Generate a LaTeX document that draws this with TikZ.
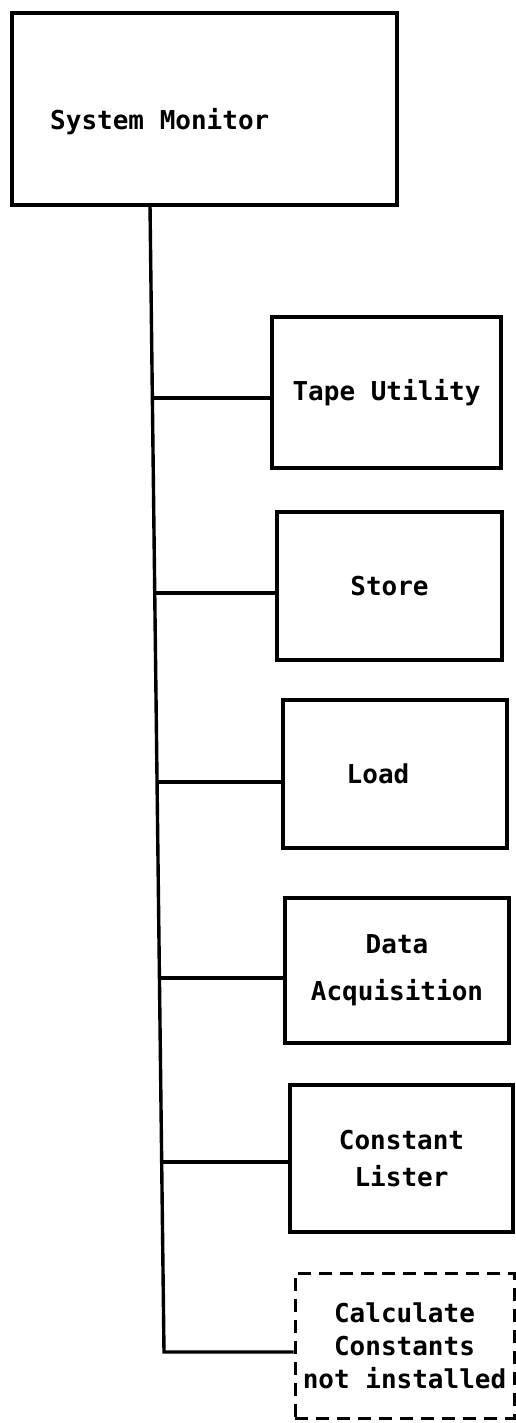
\documentclass[tikz,border=0pt]{standalone}
\usepackage{fontspec}
\newfontfamily\monofam{DejaVu Sans Mono}
\begin{document}
\begin{tikzpicture}[x=1pt,y=-1pt,
  box/.style={draw,line width=3.8pt,rectangle,inner sep=0pt,align=center,
    font=\monofam\bfseries\fontsize{26}{36}\selectfont},
  dbox/.style={box,line width=3pt,dash pattern=on 13pt off 8pt},
  lbl/.style={inner sep=0pt,font=\monofam\bfseries\fontsize{26}{36}\selectfont},
  link/.style={line width=3.4pt}]
\useasboundingbox (0,0) rectangle (516,1423);
% top box
\node[box,minimum width=385,minimum height=192] (sys) at (204.5,109) {};
\node[lbl,anchor=west] (syslbl) at (50,122) {System Monitor};
% children
\node[box,minimum width=229,minimum height=151] (tape) at (386.5,392.5) {Tape Utility};
\node[box,minimum width=225,minimum height=148] (store) at (389.5,586) {Store};
\node[box,minimum width=224,minimum height=148] (load) at (395,774) {\hspace*{-34pt}Load};
\node[box,minimum width=224,minimum height=145,font=\monofam\bfseries\fontsize{26}{47}\selectfont] (data) at (397,970.5) {Data\\Acquisition};
\node[box,minimum width=223,minimum height=147,font=\monofam\bfseries\fontsize{26}{37}\selectfont] (const) at (401.5,1158.5) {Constant\\Lister};
\node[dbox,minimum width=219,minimum height=145,font=\monofam\bfseries\fontsize{26}{33}\selectfont] (calc) at (404.5,1345.5) {Calculate\\Constants\\not installed};
% trunk
\coordinate (top) at (150,205);
\coordinate (bot) at (164,1352);
% junctions
\coordinate (j1) at (152.4,398);
\coordinate (j2) at (154.7,593);
\coordinate (j3) at (157,782);
\coordinate (j4) at (159.4,978);
\coordinate (j5) at (161.7,1162);
\draw[link] (top) -- (bot) -- (bot -| calc.west);
\draw[link] (j1) -- (j1 -| tape.west);
\draw[link] (j2) -- (j2 -| store.west);
\draw[link] (j3) -- (j3 -| load.west);
\draw[link] (j4) -- (j4 -| data.west);
\draw[link] (j5) -- (j5 -| const.west);
\end{tikzpicture}
\end{document}
